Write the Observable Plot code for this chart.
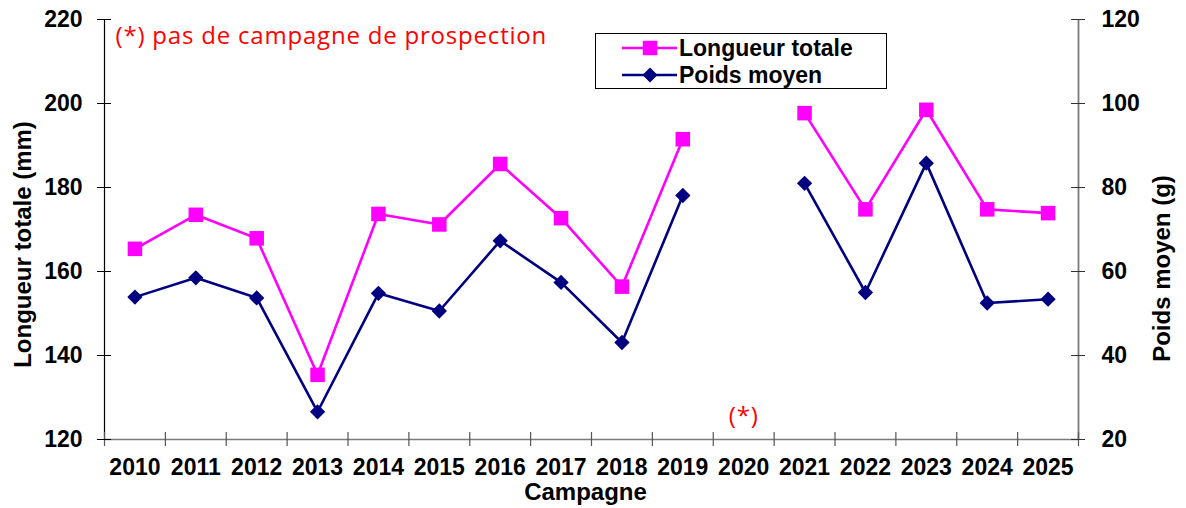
<!DOCTYPE html>
<html>
<head>
<meta charset="utf-8">
<script src="https://cdn.jsdelivr.net/npm/d3@7"></script>
<script src="https://cdn.jsdelivr.net/npm/@observablehq/plot@0.6"></script>
<style>
  html, body { margin: 0; padding: 0; background: #fff; }
  #wrap { position: relative; width: 1186px; height: 508px; }
  #legend { position: absolute; left: 595px; top: 33px; width: 292px; height: 56px; box-sizing: border-box;
            border: 1px solid #000; background: #fff; font: bold 23px "Liberation Sans", Arial, sans-serif; color: #000; }
  #legend .row { position: absolute; left: 0; height: 24px; line-height: 24px; white-space: nowrap; }
  #legend svg { position: absolute; left: 26px; top: 0; }
  #legend span { position: absolute; left: 83px; top: 0; }
</style>
</head>
<body>
<div id="wrap"></div>
<script>
// ---- data ----
const years = [2010, 2011, 2012, 2013, 2014, 2015, 2016, 2017, 2018, 2019, 2020, 2021, 2022, 2023, 2024, 2025];
const longueur = [165.4, 173.5, 167.9, 135.4, 173.7, 171.2, 185.6, 172.7, 156.4, 191.5, null, 197.7, 174.8, 198.5, 174.8, 173.9];
const poids = [53.9, 58.5, 53.7, 26.6, 54.8, 50.6, 67.3, 57.4, 43.1, 78.1, null, 81.0, 55.0, 85.8, 52.5, 53.4];
const leftTicks = [120, 140, 160, 180, 200, 220];
const rightTicks = [20, 40, 60, 80, 100, 120];
const seriesNames = ["Longueur totale", "Poids moyen"];
const seriesColors = ["#FF00FF", "#000080"];
const leftTitle = "Longueur totale (mm)";
const rightTitle = "Poids moyen (g)";
const xTitle = "Campagne";
const noteText = "(*) pas de campagne de prospection";
const missingMark = [{year: 2020, value: 125.6, label: "(*)"}];

// ---- mapping of the right axis onto the left scale ----
const leftDomain = [leftTicks[0], leftTicks[leftTicks.length - 1]];
const rightDomain = [rightTicks[0], rightTicks[rightTicks.length - 1]];
const toLeft = v => leftDomain[0] + (v - rightDomain[0]) * (leftDomain[1] - leftDomain[0]) / (rightDomain[1] - rightDomain[0]);
const toRight = v => rightDomain[0] + (v - leftDomain[0]) * (rightDomain[1] - rightDomain[0]) / (leftDomain[1] - leftDomain[0]);

const rows = years.map((y, i) => ({
  year: y,
  longueur: longueur[i] == null ? NaN : longueur[i],
  poids: poids[i] == null ? NaN : toLeft(poids[i])
}));
const xDomain = [years[0] - 0.5, years[years.length - 1] + 0.5];
const boundaries = years.map(y => y - 0.5).concat([xDomain[1]]);

const diamond = {
  draw(ctx, size) {
    const r = Math.sqrt(size / 2);
    ctx.moveTo(0, -r); ctx.lineTo(r, 0); ctx.lineTo(0, r); ctx.lineTo(-r, 0); ctx.closePath();
  }
};

const bold = {fontSize: 23, fontWeight: "bold", fill: "#000"};
const gray = "#7a7a7a";

const chart = Plot.plot({
  width: 1186,
  height: 508,
  marginLeft: 104,
  marginRight: 108,
  marginTop: 19,
  marginBottom: 69,
  x: {type: "linear", domain: xDomain},
  y: {type: "linear", domain: leftDomain},
  style: {fontFamily: "'Liberation Sans', Arial, sans-serif", background: "#fff", color: "#000"},
  marks: [
    // axis lines
    Plot.ruleY([leftDomain[0]], {stroke: gray, strokeWidth: 1.6}),
    Plot.ruleX([xDomain[0]], {stroke: "#000", strokeWidth: 1.2}),
    Plot.ruleX([xDomain[1]], {stroke: gray, strokeWidth: 1.8}),
    // category boundary tick marks (crossing the x axis)
    Plot.ruleX(boundaries, {x: d => d, y1: () => leftDomain[0], y2: () => leftDomain[0], insetTop: -7, insetBottom: -7, stroke: "#555", strokeWidth: 1.2}),
    // left y ticks (crossing)
    Plot.ruleY(leftTicks, {y: d => d, x1: () => xDomain[0], x2: () => xDomain[0], insetLeft: -7, insetRight: -7, stroke: "#000", strokeWidth: 1}),
    // right y ticks (crossing)
    Plot.ruleY(rightTicks.map(toLeft), {y: d => d, x1: () => xDomain[1], x2: () => xDomain[1], insetLeft: -7, insetRight: -7, stroke: "#333", strokeWidth: 1}),
    // axes labels
    Plot.axisY(leftTicks, {anchor: "left", tickSize: 0, tickPadding: 22, label: null, ...bold}),
    Plot.axisY(rightTicks.map(toLeft), {anchor: "right", tickSize: 0, tickPadding: 23, label: null, tickFormat: d => String(Math.round(toRight(d))), ...bold}),
    Plot.axisX(years, {anchor: "bottom", tickSize: 0, tickPadding: 19, label: null, tickFormat: d => String(d), ...bold}),
    // axis titles
    Plot.text([leftTitle], {text: d => d, frameAnchor: "left", textAnchor: "middle", rotate: -90, dx: -81, dy: 15, fontSize: 24, fontWeight: "bold", fill: "#000", lineAnchor: "middle"}),
    Plot.text([rightTitle], {text: d => d, frameAnchor: "right", textAnchor: "middle", rotate: -90, dx: 84, dy: 39, fontSize: 24, fontWeight: "bold", fill: "#000", lineAnchor: "middle"}),
    Plot.text([xTitle], {text: d => d, frameAnchor: "bottom", textAnchor: "middle", dx: -6, dy: 53, fontSize: 24, fontWeight: "bold", fill: "#000", lineAnchor: "middle"}),
    // notes
    Plot.text([noteText], {text: d => d, frameAnchor: "top-left", textAnchor: "start", lineAnchor: "middle", dx: 11, dy: 17, fontSize: 24, fontFamily: "'Open Sans', sans-serif", fill: "#FF0000"}),
    Plot.text(missingMark, {x: "year", y: "value", text: "label", fontSize: 24, fontFamily: "'Open Sans', sans-serif", fill: "#FF0000", lineAnchor: "middle"}),
    // series
    Plot.line(rows, {x: "year", y: "longueur", stroke: seriesColors[0], strokeWidth: 2.6}),
    Plot.line(rows, {x: "year", y: "poids", stroke: seriesColors[1], strokeWidth: 2.6}),
    Plot.dot(rows, {x: "year", y: "longueur", symbol: "square", r: 8.2, fill: seriesColors[0], stroke: "none"}),
    Plot.dot(rows, {x: "year", y: "poids", symbol: diamond, r: 6.1, fill: seriesColors[1], stroke: "none"})
  ]
});

// letter-spacing for the red note text
d3.select(chart).selectAll("text").filter(function() { return this.textContent === noteText || this.textContent === "(*)"; })
  .style("letter-spacing", "0.8px");

const wrap = document.getElementById("wrap");
wrap.appendChild(chart);

// legend (HTML, above the svg)
const legend = document.createElement("div");
legend.id = "legend";
const rowsTop = [2, 29];
seriesNames.forEach((name, i) => {
  const row = document.createElement("div");
  row.className = "row";
  row.style.top = rowsTop[i] + "px";
  const ns = "http://www.w3.org/2000/svg";
  const svg = document.createElementNS(ns, "svg");
  svg.setAttribute("width", 56); svg.setAttribute("height", 24);
  const line = document.createElementNS(ns, "line");
  line.setAttribute("x1", 0); line.setAttribute("x2", 55); line.setAttribute("y1", 12); line.setAttribute("y2", 12);
  line.setAttribute("stroke", seriesColors[i]); line.setAttribute("stroke-width", 2.6);
  svg.appendChild(line);
  const marker = document.createElementNS(ns, "path");
  marker.setAttribute("d", i === 0 ? "M-7.25,-7.25H7.25V7.25H-7.25Z" : "M0,-7.5L7.5,0L0,7.5L-7.5,0Z");
  marker.setAttribute("transform", "translate(28,12)");
  marker.setAttribute("fill", seriesColors[i]);
  svg.appendChild(marker);
  row.appendChild(svg);
  const span = document.createElement("span");
  span.textContent = name;
  row.appendChild(span);
  legend.appendChild(row);
});
wrap.appendChild(legend);
</script>
</body>
</html>
